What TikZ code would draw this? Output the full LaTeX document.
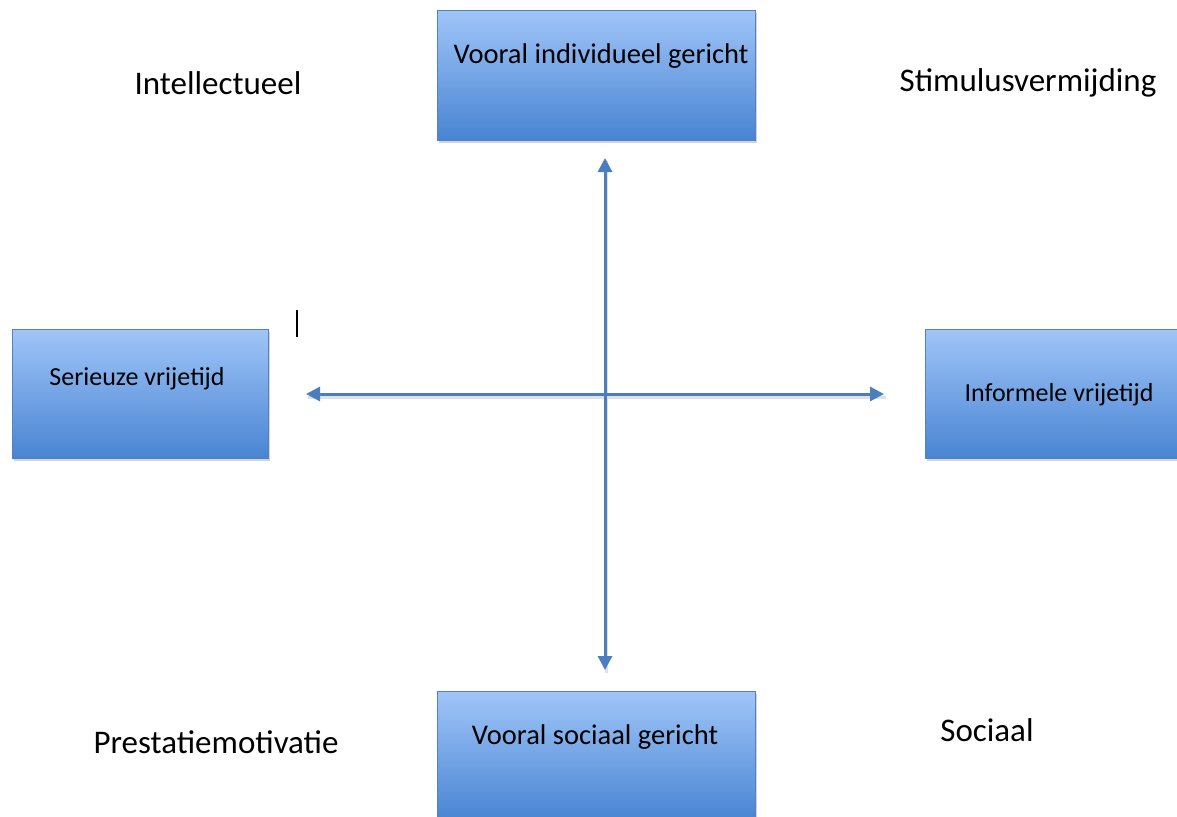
\documentclass[tikz,border=0pt]{standalone}
\usepackage{fontspec}
\setmainfont{Carlito}
\usetikzlibrary{arrows.meta,shadows,shadings}
\definecolor{boxtop}{RGB}{160,197,248}
\definecolor{boxbot}{RGB}{72,132,210}
\definecolor{boxline}{RGB}{84,130,190}
\definecolor{axis}{RGB}{74,126,190}
\tikzset{
  quadbox/.style={rectangle, draw=boxline, line width=0.8pt,
    top color=boxtop, bottom color=boxbot,
    minimum width=#1, inner sep=0pt,
    drop shadow={opacity=0.35, shadow xshift=1.5pt, shadow yshift=-3pt}},
  quadbox/.default={318pt},
  boxtext/.style={font=\fontsize{26}{30}\selectfont, text=black, inner sep=0pt},
  bigboxtext/.style={font=\fontsize{28.5}{32}\selectfont, text=black, inner sep=0pt},
  corner/.style={font=\fontsize{33}{37}\selectfont, text=black, inner sep=0pt},
  axisline/.style={draw=axis, line width=3pt,
    {Triangle[length=14pt,width=14pt]}-{Triangle[length=14pt,width=14pt]}}
}
\begin{document}
\begin{tikzpicture}[x=1pt,y=-1pt]
  \useasboundingbox (0,0) rectangle (1177,816);
  \clip (0,0) rectangle (1177,816);

  % four boxes around the cross
  \node[quadbox=318pt, minimum height=130pt, anchor=north west] (top) at (437,10) {};
  \node[quadbox=256pt, minimum height=129pt, anchor=north west] (left) at (12,329) {};
  \node[quadbox=256pt, minimum height=129pt, anchor=north west] (right) at (925,329) {};
  \node[quadbox=318pt, minimum height=130pt, anchor=north west] (bottom) at (437,691) {};

  % box labels
  \node[bigboxtext] (toptext) at (601,56) {Vooral individueel gericht};
  \node[boxtext] (lefttext) at (137,379) {Serieuze vrijetijd};
  \node[boxtext] (righttext) at (1059,395) {Informele vrijetijd};
  \node[bigboxtext] (bottomtext) at (595,737) {Vooral sociaal gericht};

  % corner labels
  \node[corner] (intel) at (218,83) {Intellectueel};
  \node[corner] (stim) at (1028,83) {Stimulusvermijding};
  \node[corner] (prest) at (216,742) {Prestatiemotivatie};
  \node[corner] (soc) at (987,730) {Sociaal};

  % axis ends
  \coordinate (vup) at (605,158);
  \coordinate (vdown) at (605,670);
  \coordinate (hleft) at (306,394);
  \coordinate (hright) at (884,394);

  % faint shadow under the axes
  \draw[line width=3pt, black!12] ([shift={(1.5,3)}]vup) -- ([shift={(1.5,3)}]vdown);
  \draw[line width=3pt, black!12] ([shift={(1.5,3)}]hleft) -- ([shift={(1.5,3)}]hright);

  % the two double-headed axes
  \draw[axisline] (vup) -- (vdown);
  \draw[axisline] (hleft) -- (hright);

  % text cursor mark
  \coordinate (cur1) at (297,310);
  \coordinate (cur2) at (297,337);
  \draw[line width=1.5pt, black] (cur1) -- (cur2);
\end{tikzpicture}
\end{document}
